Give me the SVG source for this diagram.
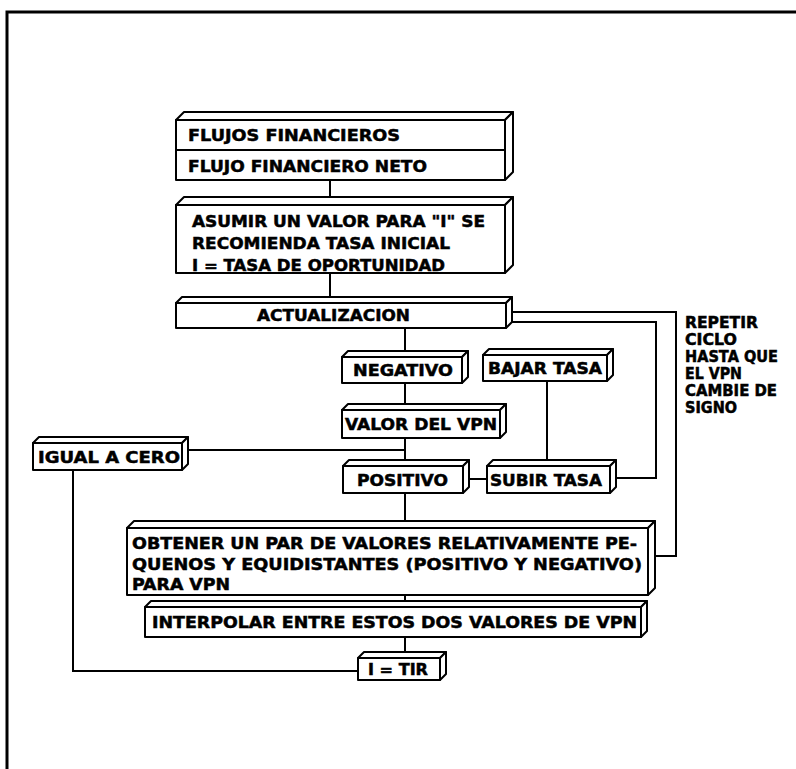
<svg xmlns="http://www.w3.org/2000/svg" width="796" height="769" viewBox="0 0 796 769">
<style>
.f{fill:#fff;stroke:#000;stroke-width:2;stroke-linejoin:round}
.c{fill:none;stroke:#000;stroke-width:2}
.t{font-family:"DejaVu Sans","Liberation Sans",Arial,sans-serif;font-weight:bold;font-size:16px;fill:#000;stroke:#000;stroke-width:0.5;dominant-baseline:central}
.s{font-family:"DejaVu Sans","Liberation Sans",Arial,sans-serif;font-weight:bold;font-size:15px;fill:#000;stroke:#000;stroke-width:0.5;dominant-baseline:central}
</style>
<rect width="796" height="769" fill="#fff"/>
<path d="M7,769 V12 H796" fill="none" stroke="#000" stroke-width="3"/>
<g id="connectors">
<path class="c" d="M330,180 V197"/>
<path class="c" d="M330,273 V297"/>
<path class="c" d="M405,328 V351"/>
<path class="c" d="M405,383 V404"/>
<path class="c" d="M405,438 V460"/>
<path class="c" d="M188,450 H405"/>
<path class="c" d="M469,479 H487"/>
<path class="c" d="M405,493 V521"/>
<path class="c" d="M405,595 V601"/>
<path class="c" d="M405,637 V652"/>
<path class="c" d="M547,381 V460"/>
<path class="c" d="M512,312 H676 V556 H655"/>
<path class="c" d="M512,322 H656 V478 H616"/>
<path class="c" d="M73,470 V671 H358"/>
</g>
<g id="n1">
<polygon class="f" points="176,120 184,112 513,112 505,120"/>
<polygon class="f" points="505,120 513,112 513,172 505,180"/>
<rect class="f" x="176" y="120" width="329" height="60"/>
<line class="c" x1="176" y1="150" x2="505" y2="150"/>
<text class="t" x="188" y="135" textLength="212" lengthAdjust="spacingAndGlyphs">FLUJOS FINANCIEROS</text>
<text class="t" x="188" y="166" textLength="239" lengthAdjust="spacingAndGlyphs">FLUJO FINANCIERO NETO</text>
</g>
<g id="n2">
<polygon class="f" points="176,205 184,197 513,197 505,205"/>
<polygon class="f" points="505,205 513,197 513,265 505,273"/>
<rect class="f" x="176" y="205" width="329" height="68"/>
<text class="t" x="192" y="221" textLength="293" lengthAdjust="spacingAndGlyphs">ASUMIR UN VALOR PARA "I" SE</text>
<text class="t" x="192" y="243" textLength="258" lengthAdjust="spacingAndGlyphs">RECOMIENDA TASA INICIAL</text>
<text class="t" x="192" y="265" textLength="253" lengthAdjust="spacingAndGlyphs">I = TASA DE OPORTUNIDAD</text>
</g>
<g id="n3">
<polygon class="f" points="176,303 182,297 512,297 506,303"/>
<polygon class="f" points="506,303 512,297 512,322 506,328"/>
<rect class="f" x="176" y="303" width="330" height="25"/>
<text class="t" x="257" y="315" textLength="153" lengthAdjust="spacingAndGlyphs">ACTUALIZACION</text>
</g>
<g id="n4">
<polygon class="f" points="342,357 348,351 468,351 462,357"/>
<polygon class="f" points="462,357 468,351 468,377 462,383"/>
<rect class="f" x="342" y="357" width="120" height="26"/>
<text class="t" x="353" y="370" textLength="100" lengthAdjust="spacingAndGlyphs">NEGATIVO</text>
</g>
<g id="n5">
<polygon class="f" points="483,355 489,349 613,349 607,355"/>
<polygon class="f" points="607,355 613,349 613,375 607,381"/>
<rect class="f" x="483" y="355" width="124" height="26"/>
<text class="t" x="488" y="368" textLength="114" lengthAdjust="spacingAndGlyphs">BAJAR TASA</text>
</g>
<g id="n6">
<polygon class="f" points="342,410 348,404 506,404 500,410"/>
<polygon class="f" points="500,410 506,404 506,432 500,438"/>
<rect class="f" x="342" y="410" width="158" height="28"/>
<text class="t" x="345" y="424" textLength="152" lengthAdjust="spacingAndGlyphs">VALOR DEL VPN</text>
</g>
<g id="n7">
<polygon class="f" points="33,443 39,437 188,437 182,443"/>
<polygon class="f" points="182,443 188,437 188,464 182,470"/>
<rect class="f" x="33" y="443" width="149" height="27"/>
<text class="t" x="38" y="457" textLength="142" lengthAdjust="spacingAndGlyphs">IGUAL A CERO</text>
</g>
<g id="n8">
<polygon class="f" points="343,466 349,460 469,460 463,466"/>
<polygon class="f" points="463,466 469,460 469,487 463,493"/>
<rect class="f" x="343" y="466" width="120" height="27"/>
<text class="t" x="357" y="480" textLength="91" lengthAdjust="spacingAndGlyphs">POSITIVO</text>
</g>
<g id="n9">
<polygon class="f" points="487,466 493,460 616,460 610,466"/>
<polygon class="f" points="610,466 616,460 616,487 610,493"/>
<rect class="f" x="487" y="466" width="123" height="27"/>
<text class="t" x="490" y="480" textLength="112" lengthAdjust="spacingAndGlyphs">SUBIR TASA</text>
</g>
<g id="n10">
<polygon class="f" points="127,528 134,521 655,521 648,528"/>
<polygon class="f" points="648,528 655,521 655,588 648,595"/>
<rect class="f" x="127" y="528" width="521" height="67"/>
<text class="t" x="132" y="543" textLength="505" lengthAdjust="spacingAndGlyphs">OBTENER UN PAR DE VALORES RELATIVAMENTE PE-</text>
<text class="t" x="132" y="564" textLength="510" lengthAdjust="spacingAndGlyphs">QUENOS Y EQUIDISTANTES (POSITIVO Y NEGATIVO)</text>
<text class="t" x="132" y="584" textLength="98" lengthAdjust="spacingAndGlyphs">PARA VPN</text>
</g>
<g id="n11">
<polygon class="f" points="145,607 151,601 647,601 641,607"/>
<polygon class="f" points="641,607 647,601 647,631 641,637"/>
<rect class="f" x="145" y="607" width="496" height="30"/>
<text class="t" x="152" y="622" textLength="485" lengthAdjust="spacingAndGlyphs">INTERPOLAR ENTRE ESTOS DOS VALORES DE VPN</text>
</g>
<g id="n12">
<polygon class="f" points="358,658 364,652 446,652 440,658"/>
<polygon class="f" points="440,658 446,652 446,674 440,680"/>
<rect class="f" x="358" y="658" width="82" height="22"/>
<text class="t" x="368" y="669" textLength="60" lengthAdjust="spacingAndGlyphs">I = TIR</text>
</g>
<g id="note">
<text class="s" x="685" y="323" textLength="73" lengthAdjust="spacingAndGlyphs">REPETIR</text>
<text class="s" x="685" y="340" textLength="52" lengthAdjust="spacingAndGlyphs">CICLO</text>
<text class="s" x="685" y="357" textLength="93" lengthAdjust="spacingAndGlyphs">HASTA QUE</text>
<text class="s" x="685" y="374" textLength="57" lengthAdjust="spacingAndGlyphs">EL VPN</text>
<text class="s" x="685" y="391" textLength="92" lengthAdjust="spacingAndGlyphs">CAMBIE DE</text>
<text class="s" x="685" y="408" textLength="52" lengthAdjust="spacingAndGlyphs">SIGNO</text>
</g>
</svg>
